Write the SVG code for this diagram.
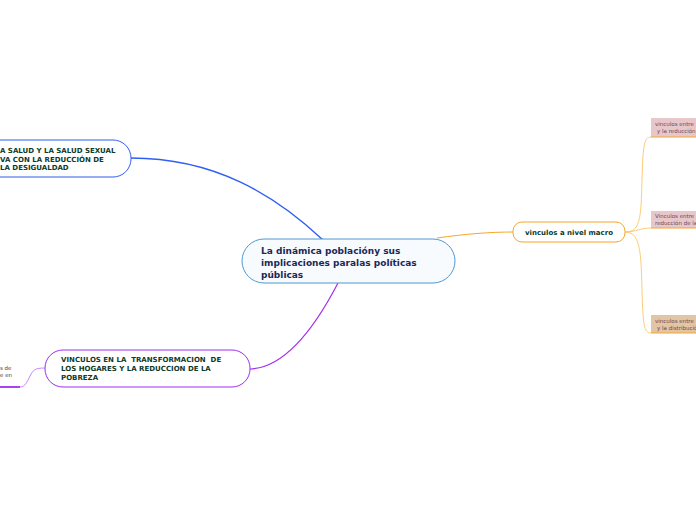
<svg xmlns="http://www.w3.org/2000/svg" width="696" height="520" viewBox="0 0 696 520">
<style>
text{font-family:"DejaVu Sans",Verdana,sans-serif;white-space:pre;}
.main{font-size:9px;font-weight:bold;fill:#1b2a55;}
.topic{font-size:7px;font-weight:bold;fill:#0d3b2a;}
.sub{font-size:5.5px;fill:#6b4b4b;}
.subl{font-size:5.5px;fill:#444;}
.oc{fill:none;stroke:#fbc76a;stroke-width:0.9;}
</style>
<rect width="696" height="520" fill="#ffffff"/>
<g id="connectors">
<path d="M131,158 C215,158 275,195 323,240" fill="none" stroke="#2f5ff3" stroke-width="1.4"/>
<path d="M338,283 C312,333 282,368 250,369" fill="none" stroke="#a02ef0" stroke-width="1.2"/>
<path d="M437,238 C465,234 490,232 513,232" fill="none" stroke="#f7a52a" stroke-width="1"/>
<path d="M625,232 C640,232 641,220 642,180 C643,145 644,137 651,137" class="oc"/>
<path d="M625,232 C636,232 640,228 651,228" class="oc"/>
<path d="M625,232 C640,232 641,250 642,290 C643,325 644,333 651,333" class="oc"/>
<path d="M45,368 C35,368 33,370 30,376 C27,382 25,387 20,387" fill="none" stroke="#c07af5" stroke-width="0.9"/>
<path d="M0,387 L20,387" fill="none" stroke="#a02ef0" stroke-width="1.8"/>
</g>
<g id="central">
<rect x="242" y="239" width="213" height="44" rx="22" fill="#f8fbfe" stroke="#4f97d3" stroke-width="1"/>
<text class="main" x="261" y="254">La dinámica poblacióny sus</text>
<text class="main" x="261" y="266">implicaciones paralas políticas</text>
<text class="main" x="261" y="278">públicas</text>
</g>
<g id="topic-salud">
<rect x="-20" y="140" width="151" height="37" rx="18" fill="#ffffff" stroke="#2f5ff3" stroke-width="1"/>
<text class="topic" x="0" y="153">A SALUD Y LA SALUD SEXUAL</text>
<text class="topic" x="0" y="161.5">VA CON LA REDUCCIÓN DE</text>
<text class="topic" x="0" y="170">LA DESIGUALDAD</text>
</g>
<g id="topic-hogares">
<rect x="45" y="350" width="205" height="37" rx="18" fill="#ffffff" stroke="#a02ef0" stroke-width="1"/>
<text class="topic" x="61" y="362" xml:space="preserve">VINCULOS EN LA  TRANSFORMACION  DE</text>
<text class="topic" x="61" y="371">LOS HOGARES Y LA REDUCCION DE LA</text>
<text class="topic" x="61" y="380">POBREZA</text>
</g>
<g id="sub-hogares">
<text class="subl" x="0" y="370">s de</text>
<text class="subl" x="0" y="377">e en</text>
</g>
<g id="topic-macro">
<rect x="513" y="222" width="112" height="20" rx="9" fill="#ffffff" stroke="#f7a52a" stroke-width="1"/>
<text class="topic" x="569" y="235" text-anchor="middle">vinculos a nivel macro</text>
</g>
<g id="sub-macro-1">
<rect x="651" y="118" width="50" height="19" fill="#e7c7cc"/>
<line x1="651" y1="137" x2="696" y2="137" stroke="#f7a52a" stroke-width="1.2"/>
<text class="sub" x="655" y="126">vinculos entre</text>
<text class="sub" x="657" y="133">y la reducción</text>
</g>
<g id="sub-macro-2">
<rect x="651" y="211" width="50" height="17" fill="#e7c7cc"/>
<line x1="651" y1="228" x2="696" y2="228" stroke="#f7a52a" stroke-width="1.2"/>
<text class="sub" x="655" y="218">Vinculos entre</text>
<text class="sub" x="655" y="225">reducción de la</text>
</g>
<g id="sub-macro-3">
<rect x="651" y="315" width="50" height="18" fill="#e2c4a6"/>
<line x1="651" y1="333" x2="696" y2="333" stroke="#f7a52a" stroke-width="1.2"/>
<text class="sub" x="655" y="323">vinculos entre</text>
<text class="sub" x="657" y="330">y la distribución</text>
</g>
</svg>
